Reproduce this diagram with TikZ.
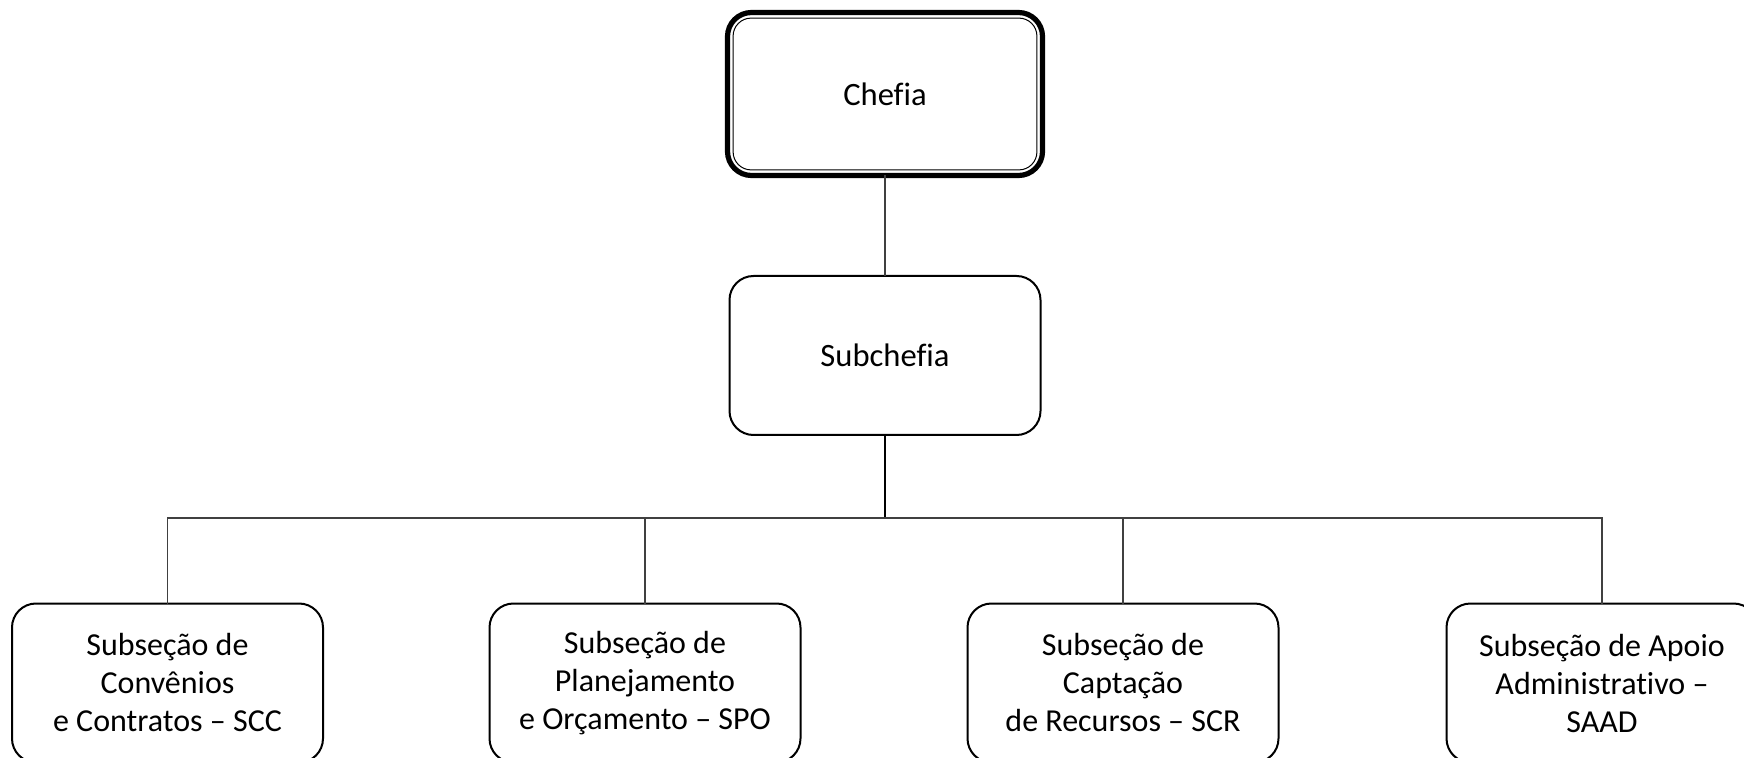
\documentclass[tikz,border=0pt]{standalone}
\usepackage{fontspec}
\setmainfont{Carlito}[Ligatures={NoCommon}]
\begin{document}
\begin{tikzpicture}[x=0.5pt,y=-0.5pt,
  unit/.style={draw=black,line width=1pt,rounded corners=12pt,outer sep=0pt,inner sep=0pt,
    minimum width=155.5pt,minimum height=79.5pt,align=center,
    font=\fontsize{16}{19}\selectfont},
  topbox/.style={draw=black,line width=2.6pt,rounded corners=12pt,outer sep=0pt,inner sep=0pt,
    minimum width=157.5pt,minimum height=81.5pt,align=center,
    font=\fontsize{16.3}{19}\selectfont},
  link/.style={draw=black!75,line width=0.55pt},
  stem/.style={draw=black,line width=1pt}]
\useasboundingbox (0,0) rectangle (1744,758);
\node[topbox] (chefia) at (885,94) {Chefia};
\draw[line width=0.5pt,rounded corners=9pt]
  ([xshift=2.8pt,yshift=-2.8pt]chefia.north west) rectangle
  ([xshift=-2.8pt,yshift=2.8pt]chefia.south east);
\node[unit,font=\fontsize{16.3}{19}\selectfont] (sub) at (885,355.5) {Subchefia};
\node[unit] (b1) at (167.5,683) {Subseção de\\Convênios\\e Contratos – SCC};
\node[unit] (b2) at (645,683) {Subseção de\\Planejamento\\e Orçamento – SPO};
\node[unit] (b3) at (1123,683) {Subseção de\\Captação\\de Recursos – SCR};
\node[unit] (b4) at (1602,683) {Subseção de Apoio\\Administrativo –\\SAAD};
\coordinate (j) at (885,518);
\draw[link] (chefia) -- (sub);
\draw[stem] (sub) -- (j);
\draw[link] (j) -| (b1.north);
\draw[link] (j) -| (b2.north);
\draw[link] (j) -| (b3.north);
\draw[link] (j) -| (b4.north);
\end{tikzpicture}
\end{document}
